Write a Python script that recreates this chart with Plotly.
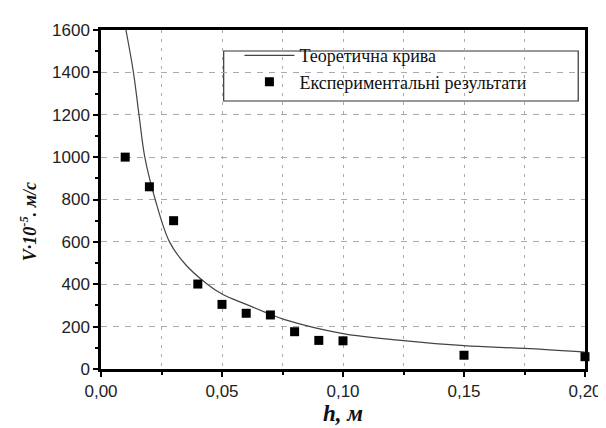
import plotly.graph_objects as go

# Theoretical curve
theory_h = [0.0103, 0.0134, 0.0157, 0.0181, 0.0224, 0.0283, 0.035, 0.0434, 0.05, 0.06, 0.07, 0.0759, 0.10, 0.125, 0.15, 0.175, 0.20]
theory_v = [1600, 1400, 1200, 1000, 800, 600, 492, 405, 354, 305, 258, 233, 167, 134, 110, 97, 80]

# Experimental results
exp_h = [0.01, 0.02, 0.03, 0.04, 0.05, 0.06, 0.07, 0.08, 0.09, 0.10, 0.15, 0.20]
exp_v = [1000, 860, 700, 401, 305, 263, 255, 176, 135, 133, 65, 58]

x_ticks = [0.00, 0.05, 0.10, 0.15, 0.20]
y_ticks = [0, 200, 400, 600, 800, 1000, 1200, 1400, 1600]

SERIF = "Liberation Serif"
SANS = "Liberation Sans"

fig = go.Figure()
fig.add_trace(go.Scatter(
    x=theory_h, y=theory_v, mode="lines", name="Теоретична крива",
    line=dict(color="#444444", width=1.2, shape="spline", smoothing=1.0)))
fig.add_trace(go.Scatter(
    x=exp_h, y=exp_v, mode="markers", name="Експериментальні результати",
    marker=dict(symbol="square", size=9, color="black"), cliponaxis=False))

axis_font = dict(family=SANS, size=17, color="#222222")
fig.update_layout(
    width=606, height=428,
    margin=dict(l=93, r=20, t=22, b=67),
    paper_bgcolor="white", plot_bgcolor="white",
    separators=",.",
    showlegend=True,
    legend=dict(x=0.286, y=0.979, xanchor="left", yanchor="top",
                borderwidth=0, bgcolor="rgba(0,0,0,0)",
                font=dict(family=SERIF, size=18, color="#111111"),
                tracegroupgap=0, itemwidth=50),
    shapes=[dict(type="rect", xref="paper", yref="paper",
                 x0=0.2535, x1=0.986, y0=0.7906, y1=0.938,
                 line=dict(color="#333333", width=1.2), fillcolor="white", layer="below")],
    xaxis=dict(range=[0, 0.20], tickvals=x_ticks, tickformat=".2f",
               showline=True, linecolor="black", linewidth=2.5, mirror=True,
               ticks="outside", ticklen=5, tickwidth=2, tickcolor="black",
               tickfont=axis_font,
               showgrid=True, gridcolor="#aaaaaa", gridwidth=1, griddash="3px,6px",
               minor=dict(dtick=0.025, tick0=0, ticks="outside", ticklen=3, tickwidth=1.5,
                          tickcolor="black", showgrid=True, gridcolor="#aaaaaa",
                          griddash="3px,6px", gridwidth=1),
               zeroline=False,
               title=dict(text="<b><i>h, м</i></b>", standoff=4,
                          font=dict(family=SERIF, size=23, color="#111111"))),
    yaxis=dict(range=[0, 1600], tickvals=y_ticks,
               showline=True, linecolor="black", linewidth=2.5, mirror=True,
               ticks="outside", ticklen=5, tickwidth=2, tickcolor="black",
               tickfont=axis_font,
               showgrid=True, gridcolor="#aaaaaa", gridwidth=1, griddash="6px,6px",
               minor=dict(dtick=100, tick0=0, ticks="outside", ticklen=3, tickwidth=1.5,
                          tickcolor="black", showgrid=False),
               zeroline=False),
    yaxis2=dict(range=[0, 1600], overlaying="y", side="right", matches="y",
                showticklabels=False, showgrid=False, zeroline=False,
                tickvals=y_ticks, ticks="inside", ticklen=5, tickwidth=2, tickcolor="black",
                minor=dict(dtick=100, tick0=0, ticks="inside", ticklen=3, tickwidth=1.5, tickcolor="black")),
    annotations=[dict(text="<b><i>V·10<sup>-5</sup>. м/с</i></b>", textangle=-90,
                      xref="paper", yref="paper", x=-0.148, y=0.434,
                      xanchor="center", yanchor="middle", showarrow=False,
                      font=dict(family=SERIF, size=18, color="#111111"))],
)

fig.write_html("out.html")
